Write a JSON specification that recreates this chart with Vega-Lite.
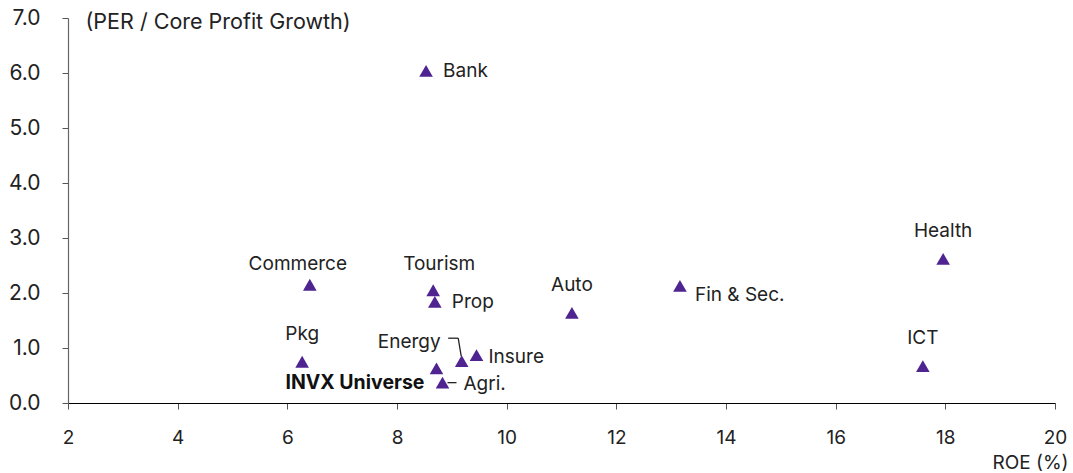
{
  "$schema": "https://vega.github.io/schema/vega-lite/v6.json",
  "width": 987,
  "height": 385,
  "autosize": "none",
  "padding": {"left": 68, "top": 18, "right": 18, "bottom": 70},
  "background": "white",
  "config": {
    "view": {"stroke": null},
    "font": "Inter",
    "text": {"font": "Inter", "fontSize": 19, "color": "#222222"}
  },
  "data": {
    "values": [
      {"sector": "Bank", "roe": 8.53, "peg": 6.04},
      {"sector": "Health", "roe": 17.96, "peg": 2.62},
      {"sector": "Commerce", "roe": 6.41, "peg": 2.15},
      {"sector": "Tourism", "roe": 8.66, "peg": 2.05},
      {"sector": "Prop", "roe": 8.69, "peg": 1.84},
      {"sector": "Auto", "roe": 11.19, "peg": 1.64},
      {"sector": "Fin & Sec.", "roe": 13.16, "peg": 2.13},
      {"sector": "Pkg", "roe": 6.27, "peg": 0.75},
      {"sector": "ICT", "roe": 17.59, "peg": 0.67},
      {"sector": "Energy", "roe": 9.18, "peg": 0.76},
      {"sector": "Insure", "roe": 9.45, "peg": 0.87},
      {"sector": "INVX Universe", "roe": 8.72, "peg": 0.63},
      {"sector": "Agri.", "roe": 8.83, "peg": 0.37}
    ]
  },
  "encoding": {
    "x": {
      "field": "roe", "type": "quantitative",
      "scale": {"domain": [2, 20], "nice": false, "zero": false},
      "axis": {
        "values": [2, 4, 6, 8, 10, 12, 14, 16, 18, 20],
        "grid": false, "domainColor": "#000000", "domainWidth": 1.2,
        "tickColor": "#555555", "tickSize": 6, "labelPadding": 19, "labelFlush": false,
        "labelFont": "Inter", "labelFontSize": 19, "labelColor": "#222222",
        "title": "ROE (%)", "titleFont": "Inter", "titleFontSize": 19, "titleFontWeight": "normal",
        "titleColor": "#222222", "titleAlign": "right", "titleAnchor": "end",
        "titleX": 1000, "titleY": 59, "titleBaseline": "middle"
      }
    },
    "y": {
      "field": "peg", "type": "quantitative",
      "scale": {"domain": [0, 7], "nice": false},
      "axis": {
        "values": [0, 1, 2, 3, 4, 5, 6, 7], "format": ".1f",
        "grid": false, "domainColor": "#666666", "domainWidth": 1.2,
        "tickColor": "#555555", "tickSize": 6, "labelPadding": 22, "labelFlush": false,
        "labelFont": "Inter", "labelFontSize": 21, "labelColor": "#222222",
        "title": "(PER / Core Profit Growth)", "titleFont": "Inter", "titleFontSize": 21.5,
        "titleFontWeight": "normal", "titleColor": "#222222", "titleAngle": 0,
        "titleAlign": "left", "titleBaseline": "middle", "titleX": 17, "titleY": 4
      }
    }
  },
  "layer": [
    {
      "transform": [{"filter": "datum.sector === 'Agri.'"}],
      "mark": {"type": "rule", "color": "#222222", "strokeWidth": 1.3, "xOffset": 5, "x2Offset": 14, "yOffset": 0, "y2Offset": 0},
      "encoding": {"x2": {"field": "roe"}, "y2": {"field": "peg"}}
    },
    {
      "transform": [{"filter": "datum.sector === 'Energy'"}],
      "mark": {"type": "rule", "color": "#222222", "strokeWidth": 1.3, "xOffset": -13.5, "x2Offset": -3.5, "yOffset": -23, "y2Offset": -23},
      "encoding": {"x2": {"field": "roe"}, "y2": {"field": "peg"}}
    },
    {
      "transform": [{"filter": "datum.sector === 'Energy'"}],
      "mark": {"type": "rule", "color": "#222222", "strokeWidth": 1.3, "xOffset": -3.5, "x2Offset": -0.5, "yOffset": -23, "y2Offset": -5},
      "encoding": {"x2": {"field": "roe"}, "y2": {"field": "peg"}}
    },
    {
      "mark": {"type": "point", "shape": "triangle-up", "size": 185, "filled": true, "opacity": 1, "color": "#4F2390"}
    },
    {
      "transform": [{"filter": "indexof(['Bank','Prop'], datum.sector) >= 0"}],
      "mark": {"type": "text", "align": "left", "baseline": "middle", "dx": 17, "dy": 0},
      "encoding": {"text": {"field": "sector"}}
    },
    {
      "transform": [{"filter": "datum.sector === 'Insure'"}],
      "mark": {"type": "text", "align": "left", "baseline": "middle", "dx": 12, "dy": 2},
      "encoding": {"text": {"field": "sector"}}
    },
    {
      "transform": [{"filter": "datum.sector === 'Agri.'"}],
      "mark": {"type": "text", "align": "left", "baseline": "middle", "dx": 21, "dy": 1},
      "encoding": {"text": {"field": "sector"}}
    },
    {
      "transform": [{"filter": "datum.sector === 'Fin & Sec.'"}],
      "mark": {"type": "text", "align": "left", "baseline": "middle", "dx": 15, "dy": 9},
      "encoding": {"text": {"field": "sector"}}
    },
    {
      "transform": [{"filter": "indexof(['Health','Auto','Pkg','ICT'], datum.sector) >= 0"}],
      "mark": {"type": "text", "align": "center", "baseline": "middle", "dx": 0, "dy": -28},
      "encoding": {"text": {"field": "sector"}}
    },
    {
      "transform": [{"filter": "datum.sector === 'Commerce'"}],
      "mark": {"type": "text", "align": "center", "baseline": "middle", "dx": -12, "dy": -21},
      "encoding": {"text": {"field": "sector"}}
    },
    {
      "transform": [{"filter": "datum.sector === 'Tourism'"}],
      "mark": {"type": "text", "align": "center", "baseline": "middle", "dx": 6, "dy": -26},
      "encoding": {"text": {"field": "sector"}}
    },
    {
      "transform": [{"filter": "datum.sector === 'Energy'"}],
      "mark": {"type": "text", "align": "right", "baseline": "middle", "dx": -21, "dy": -19},
      "encoding": {"text": {"field": "sector"}}
    },
    {
      "transform": [{"filter": "datum.sector === 'INVX Universe'"}],
      "mark": {"type": "text", "align": "right", "baseline": "middle", "dx": -12, "dy": 15, "fontSize": 19.5, "fontWeight": "bold", "color": "#111111"},
      "encoding": {"text": {"field": "sector"}}
    }
  ]
}
